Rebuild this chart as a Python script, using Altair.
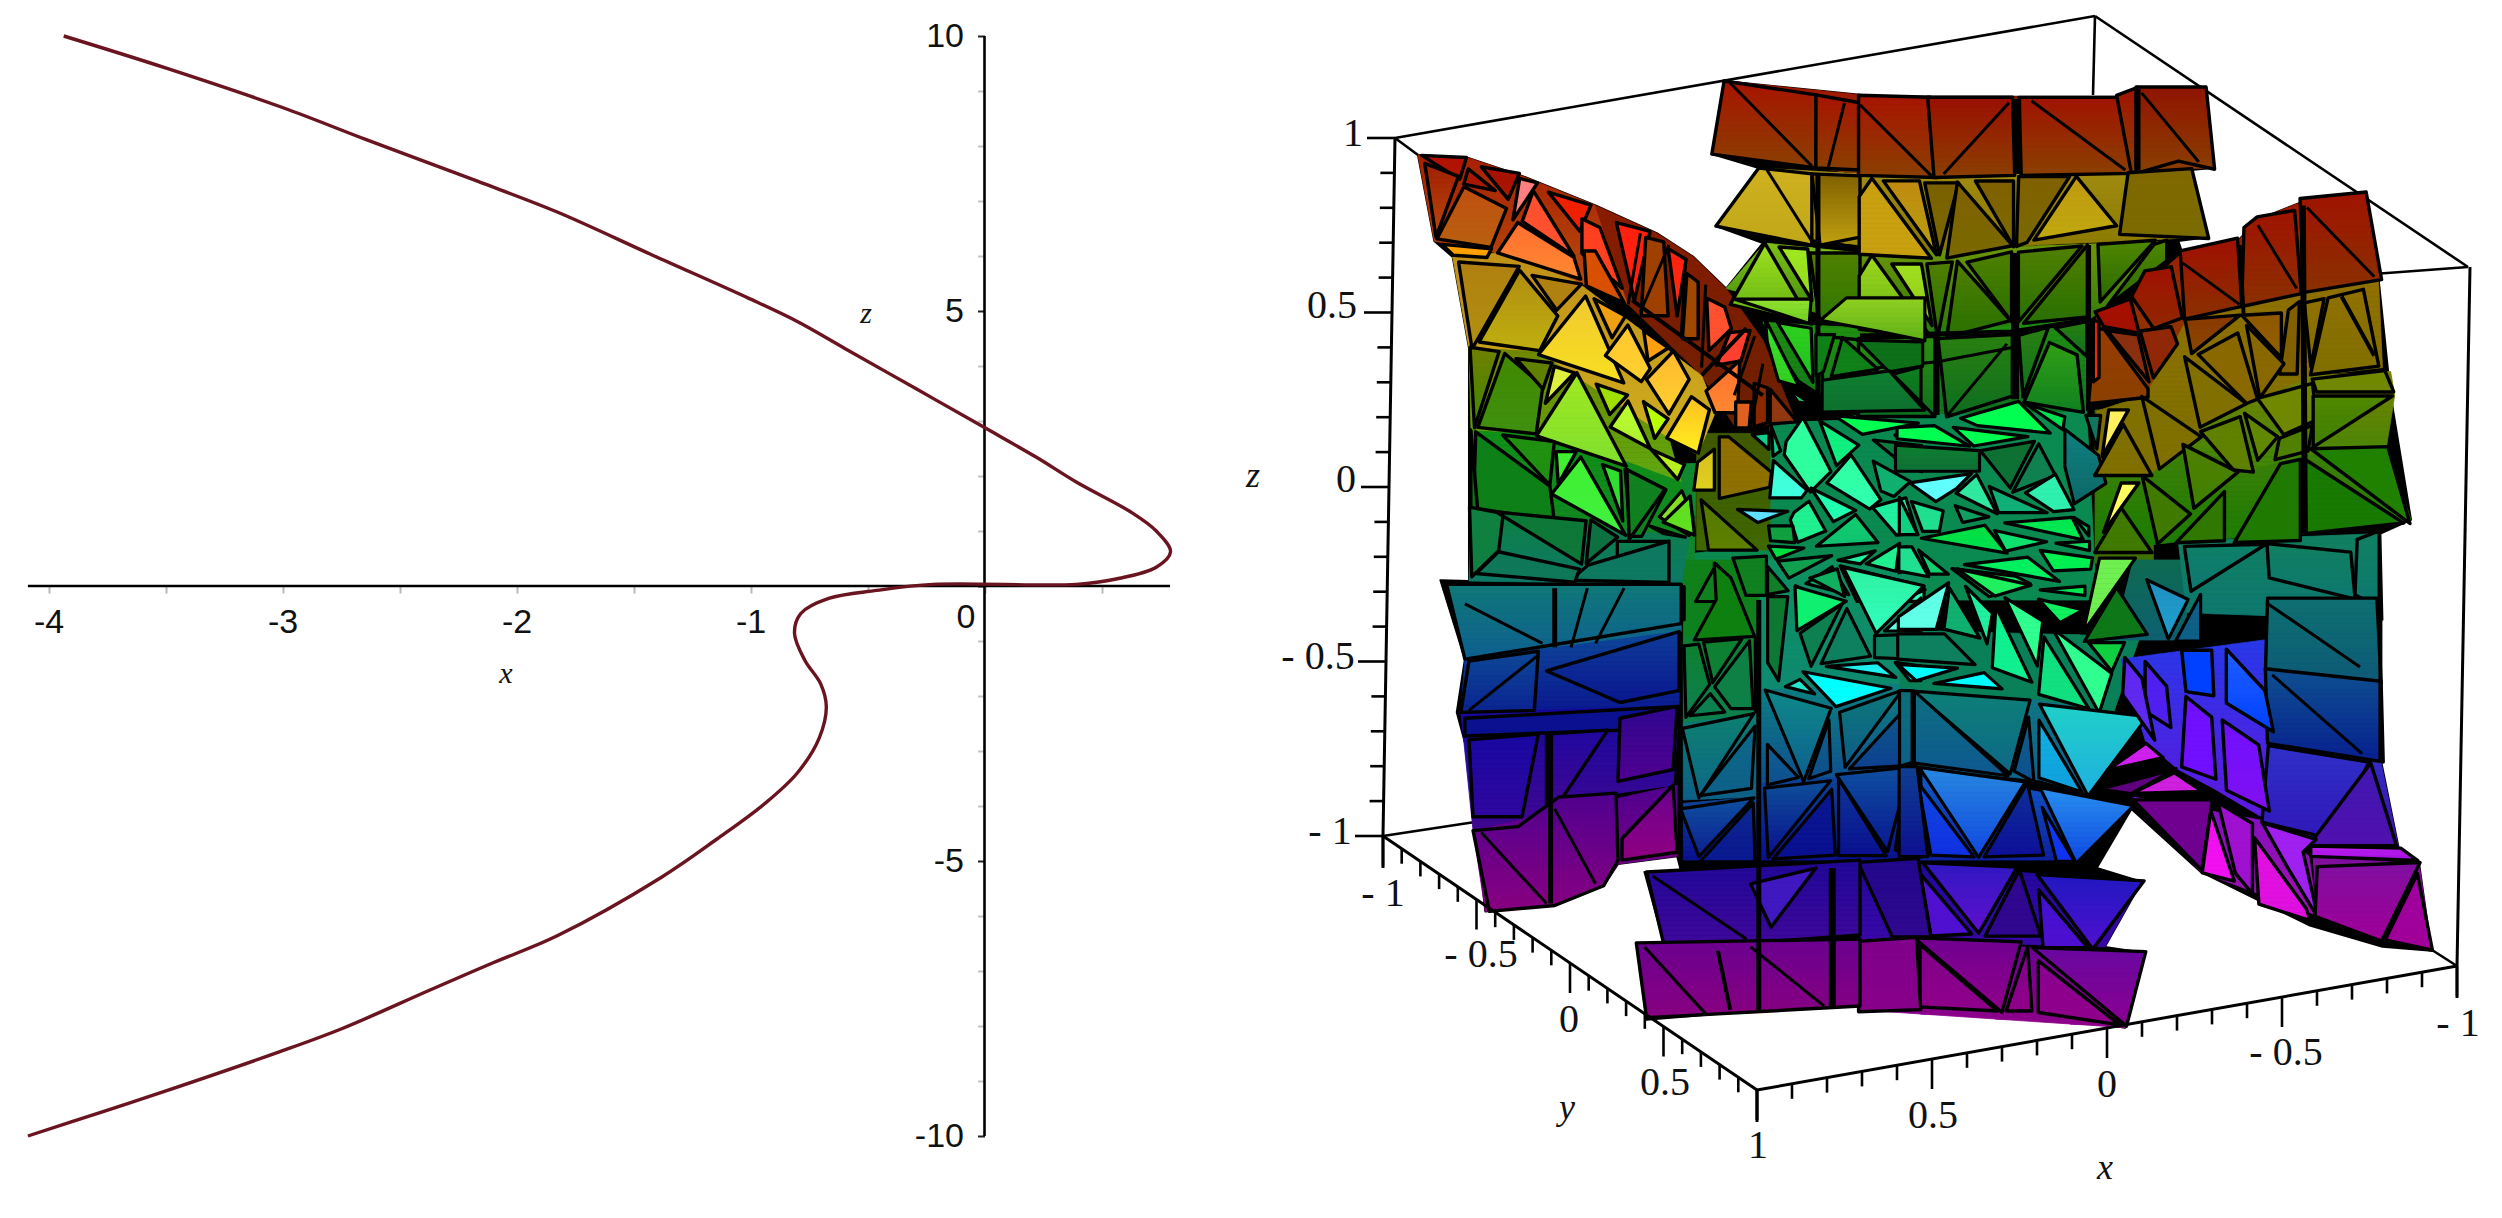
import altair as alt
import pandas as pd

# ---------- left panel: the space curve projected on the (x, z) plane ----------
CURVE_X = [-3.935,-3.5,-3.0,-2.645,-2.167,-1.826,-1.416,-1.007,-0.8,-0.597,-0.29,0,0.222,0.392,0.631,0.734,0.795,0.734,0.563,0.392,-0.22,-0.46,-0.666,-0.785,-0.812,-0.768,-0.70,-0.676,-0.706,-0.80,-0.94,-1.143,-1.382,-1.826,-2.10,-2.372,-2.747,-3.02,-3.498,-3.77,-4.088]
CURVE_Z = [10,9.42,8.7,8.12,7.36,6.80,6.01,5.23,4.81,4.32,3.58,2.88,2.34,1.89,1.33,1.0,0.62,0.34,0.127,0.03,0.03,-0.08,-0.226,-0.5,-0.86,-1.35,-1.78,-2.2,-2.76,-3.4,-3.96,-4.6,-5.3,-6.36,-6.85,-7.35,-8.05,-8.48,-9.18,-9.56,-10]
X_TICKS = [-4,-3.5,-3,-2.5,-2,-1.5,-1,-0.5,0,0.5]
Z_TICKS = list(range(-10,11))

# ---------- right panel: facets, per crop ----------
FRAMES = {"A":(1220,0,2.45,2.53),"B":(1860,0,2.45,2.53),"C":(1220,600,2.45,2.537),"D":(1860,600,2.45,2.537),
          "E":(1620,300,3,3),"F":(1900,300,3,3),"G":(1620,560,3,3),"H":(1900,560,3,3)}

SILHOUETTE = [
 ("A",[(485,392),(610,400),(740,445),(920,520),(1070,590),(1160,650),(1240,730),(1330,615),(1215,572),(1320,425),(1205,390),(1235,205),(1568,240)]),
 ("B",[(0,245),(630,245),(680,225),(845,225),(865,425),(810,430),(850,600),(780,610),(790,640),(925,610),(975,555),(1085,510),(1235,495),(1270,700),(1300,1000),(1350,1315),(1275,1350),(1280,1568)]),
 ("D",[(1275,0),(1275,400),(1320,630),(1370,670),(1400,890),(1280,880),(1100,825),(835,690),(665,530),(580,680),(690,715),(600,880),(695,895),(650,1085),(350,1040),(160,1030),(0,1035)]),
 ("C",[(1568,1030),(1220,1050),(1045,1065),(1020,870),(1090,880),(1040,690),(1130,690),(1120,650),(975,670),(940,725),(820,775),(650,790),(610,400),(580,285),(600,150),(555,0),(540,-50)]),
 ("A",[(610,1470),(610,880),(570,650),(525,610)]),
]

# row backings under the facets: (colour, colour, vertices), no outline
BASE_A = [
 ("#a01400","#8a4000",[(1235,205),(1568,240),(1568,440),(1205,390)]),
 ("#a89018","#a08c10",[(1320,425),(1568,440),(1568,620),(1215,572)]),
 ("#80c018","#3a8808",[(1335,615),(1568,640),(1568,820),(1240,730)]),
 ("#209010","#0e7420",[(1330,815),(1568,830),(1568,1060),(1420,960)]),
 ("#a82000","#b85010",[(485,392),(610,400),(740,445),(920,520),(1000,770),(870,710),(680,640),(525,610)]),
 ("#8a1c00","#6a2000",[(920,520),(1070,590),(1160,650),(1240,730),(1330,860),(1410,1065),(1265,1085),(1180,950),(1000,770)]),
 ("#c09018","#d0b020",[(570,650),(680,640),(870,710),(1180,950),(1215,1040),(1170,1150),(1100,1110),(780,890),(610,880)]),
 ("#708800","#60a810",[(610,880),(780,890),(1100,1110),(1130,1220),(1000,1170),(790,1100),(615,1090)]),
 ("#109018","#108820",[(615,1090),(790,1100),(1000,1170),(1130,1220),(1160,1360),(1000,1360),(620,1290)]),
 ("#0e8040","#0e7868",[(615,1290),(1150,1360),(1130,1480),(610,1470)]),
]
BASE_B = [
 ("#a01400","#8a4000",[(0,245),(630,245),(680,225),(845,225),(865,425),(0,445)]),
 ("#a08c10","#8a7800",[(0,445),(810,430),(850,600),(0,640)]),
 ("#709808","#2a7808",[(0,640),(750,610),(750,660),(560,810),(0,850)]),
 ("#209010","#0e7420",[(0,850),(555,810),(555,1040),(0,1050)]),
 ("#a01800","#8a4000",[(580,790),(670,750),(790,640),(925,610),(975,555),(1085,510),(1235,495),(1270,700),(1100,740),(800,810),(800,900),(700,1000),(565,1015)]),
 ("#907000","#807000",[(800,810),(1100,740),(1270,700),(1280,930),(1110,950),(980,1010),(840,1080),(700,1000)]),
 ("#788000","#408808",[(840,1080),(980,1010),(1110,950),(1300,940),(1310,1000),(1290,1130),(1100,1150),(960,1190),(800,1130)]),
 ("#408008","#187c00",[(580,1200),(710,1200),(800,1130),(960,1190),(1100,1150),(1290,1135),(1350,1315),(1095,1350),(780,1370),(580,1395)]),
 ("#807000","#807000",[(580,1040),(700,1000),(840,1080),(800,1130),(710,1200),(580,1200)]),
 ("#108060","#0e7870",[(780,1370),(1275,1350),(1270,1568),(800,1550)]),
]
BASE_C = [
 ("#107878","#0e6090",[(555,-40),(1130,-40),(1130,80),(600,150)]),
 ("#0e4898","#0a1890",[(600,150),(1125,80),(1125,270),(590,285)]),
 ("#1808a0","#400890",[(590,285),(1125,270),(1110,470),(975,490),(830,500),(730,575),(620,585)]),
 ("#500090","#880080",[(620,585),(1120,470),(1120,650),(975,670),(940,725),(820,775),(650,790)]),
]
BASE_D = [
 ("#0e7070","#0e5a78",[(1000,0),(1275,0),(1275,205),(1000,175)]),
 ("#0e5090","#082090",[(1000,175),(1275,205),(1275,405),(1000,365)]),
 ("#3030c8","#4010b0",[(1005,370),(1275,405),(1320,630),(1100,620),(990,560)]),
 ("#2838e8","#6018e0",[(640,150),(1000,100),(1000,560),(870,480),(780,430),(700,360)]),
 ("#8010c0","#a010b0",[(670,500),(990,560),(1100,650),(1120,800),(835,690)]),
 ("#8010a0","#a00098",[(1110,650),(1370,670),(1400,890),(1120,800)]),
 ("#20089a","#3a08a8",[(0,660),(690,715),(600,880),(0,860)]),
 ("#6a0090","#90008a",[(0,860),(695,895),(650,1085),(0,1040)]),
]
BASE_G = [
 ("#108018","#0e8020",[(190,0),(420,0),(420,230),(190,230)]),
 ("#0e9060","#0e8a70",[(420,0),(900,0),(900,370),(420,390)]),
 ("#0e8030","#0e8050",[(190,230),(400,220),(400,470),(190,500)]),
 ("#0e7c70","#0e6088",[(190,490),(420,460),(420,710),(190,720)]),
 ("#0e8080","#0e5090",[(420,390),(900,370),(900,640),(420,670)]),
 ("#0e4898","#0a1090",[(420,670),(900,630),(900,900),(420,900)]),
 ("#0e4898","#0a1090",[(190,730),(420,710),(420,900),(190,900)]),
]
BASE_E = [
 ("#0a8a50","#0a8a50",[(450,370),(900,350),(900,900),(230,900),(220,760),(400,740),(450,580)]),
 ("#108830","#108830",[(0,500),(230,490),(220,900),(0,900)]),
 ("#405800","#406800",[(230,400),(450,400),(450,750),(230,750)]),
]
BASE_F = [
 ("#0a8a50","#0a8a50",[(0,340),(560,330),(590,900),(0,900)]),
 ("#406800","#407000",[(585,330),(760,330),(760,790),(585,790)]),
]
BASE_H = [
 ("#0a8058","#0a8058",[(0,210),(720,230),(640,460),(0,390)]),
 ("#0e6a50","#0e6070",[(700,0),(860,0),(860,240),(640,240)]),
 ("#0e7880","#0e6090",[(0,385),(410,420),(720,470),(560,700),(420,660),(0,620)]),
 ("#1060d0","#0e20a0",[(0,620),(660,740),(500,900),(0,900)]),
]

BACK_A = [
 ("#a81400","#8a4000",[(1235,205),(1460,240),(1460,425),(1205,390)]),
 ("#a81400","#8a4000",[(1460,240),(1568,260),(1568,430),(1460,425)]),
 ("#d0b020","#c0a818",[(1320,425),(1450,440),(1450,620),(1215,572)]),
 ("#806000","#c0a010",[(1450,440),(1568,445),(1568,600),(1470,620)]),
 ("#a0e020","#60b010",[(1335,615),(1450,820),(1250,770)]),
 ("#a0e820","#90d820",[(1370,625),(1440,630),(1450,760)]),
 ("#508000","#307800",[(1445,640),(1568,640),(1568,790),(1470,820)]),
 ("#209010","#0e7020",[(1470,850),(1568,860),(1568,1050),(1480,1020)]),
]
BACK_A_LINES = [(3,[(1250,210),(1450,420)]),(3,[(1530,260),(1490,425)]),(3,[(1340,430),(1450,610)]),(5,[(1465,440),(1465,1030)]),(3,[(1510,790),(1470,820)])]

BACK_B = [
 ("#a81400","#8a4000",[(0,245),(170,250),(185,445),(0,440)]),
 ("#9a1000","#8a4000",[(170,250),(370,250),(375,440),(185,445)]),
 ("#a01400","#8a4000",[(395,250),(630,250),(665,435),(400,440)]),
 ("#a01400","#8a4000",[(630,245),(680,225),(680,430),(665,435)]),
 ("#901400","#8a4000",[(680,225),(845,225),(865,425),(780,405),(680,435)]),
 ("#c8a010","#c8a010",[(30,455),(170,650),(0,640),(0,500)]),
 ("#c08a10","#b8a010",[(60,460),(145,460),(185,640)]),
 ("#7a6000","#7a6a00",[(160,465),(240,465),(195,640)]),
 ("#806000","#7a6a00",[(240,465),(370,620),(215,650)]),
 ("#806000","#7a6a00",[(285,460),(375,460),(375,620)]),
 ("#806000","#7a6a00",[(390,450),(510,450),(410,610),(385,620)]),
 ("#c09a10","#c0a810",[(530,450),(625,570),(430,605)]),
 ("#806800","#7a6c00",[(660,440),(810,430),(850,600),(640,590)]),
 ("#a0d820","#60b010",[(30,650),(170,850),(0,830),(0,700)]),
 ("#a0e020","#90c818",[(80,670),(150,670),(175,820)]),
 ("#508000","#2a7000",[(165,670),(225,665),(190,850)]),
 ("#508000","#2a7000",[(240,665),(365,810),(215,850)]),
 ("#508000","#2a7000",[(265,665),(370,640),(370,810)]),
 ("#508000","#2a7000",[(390,640),(540,625),(390,810)]),
 ("#508000","#2a7000",[(555,625),(555,800),(405,815)]),
 ("#508800","#2a6800",[(585,620),(720,610),(590,760)]),
 ("#508800","#2a6800",[(720,620),(750,610),(750,660),(610,770)]),
 ("#2a9010","#0e7020",[(0,860),(180,855),(180,1050),(0,1050)]),
 ("#2a8010","#0e6e20",[(195,860),(370,850),(370,1000),(215,1050)]),
 ("#30a015","#108020",[(405,1015),(465,870),(530,900),(545,1040)]),
 ("#2a8010","#0e7020",[(390,850),(460,830),(400,1000)]),
 ("#2a8010","#0e7020",[(480,830),(555,815),(555,900)]),
]
BACK_B_LINES = [(3,[(0,265),(175,445)]),(3,[(365,260),(205,440)]),(8,[(385,250),(385,440)]),(3,[(420,255),(650,430)]),(6,[(680,225),(680,430)]),(3,[(690,235),(830,410)]),
 (3,[(0,860),(180,1050)]),(3,[(0,935),(190,915),(370,880)]),(8,[(380,640),(380,1010)]),(3,[(360,870),(215,1050)]),(4,[(190,850),(190,1050)]),(5,[(0,850),(370,840),(555,810)]),(5,[(560,620),(560,1040)])]

CENTRE_E = [
 ("#0e8050","#0e6860",[(0,730),(135,730),(135,840),(0,820)]),
 ("#108020","#108020",[(20,520),(130,575),(65,700),(35,700)]),
 ("#80e020","#90e030",[(185,580),(215,650),(205,700),(125,650)]),
 ("#40d020","#20b020",[(95,680),(190,710),(130,700)]),
 ("#507800","#608000",[(250,610),(400,745),(270,745)]),
 ("#907000","#8c7000",[(305,420),(330,420),(445,515),(440,555),(305,585)]),
 ("#d8c020","#e0d020",[(235,490),(280,455),(280,565),(225,565)]),
 ("#30ffa0","#30ffa0",[(550,365),(615,490),(625,510),(570,565),(500,465),(505,430)]),
 ("#10f080","#10f080",[(605,370),(710,435),(650,490)]),
 ("#30ffa0","#30ffb0",[(695,475),(775,595),(745,620),(630,550)]),
 ("#40ffd0","#40ffe0",[(465,490),(555,570),(540,590),(455,590)]),
 ("#20ffb0","#20ffb0",[(580,570),(700,630),(640,660)]),
 ("#20f090","#20f090",[(525,640),(565,610),(610,690),(535,720),(515,660)]),
 ("#10d070","#10c070",[(705,650),(765,725),(600,735)]),
 ("#20f0a0","#20f0a0",[(765,625),(855,600),(885,695),(830,700)]),
 ("#10b070","#10b070",[(765,490),(865,545),(820,585),(785,570)]),
 ("#0e8040","#0e7040",[(770,425),(900,440),(900,510),(850,490)]),
 ("#00ff50","#00ff50",[(655,350),(880,370),(730,400)]),
 ("#00ff50","#00ff50",[(830,405),(900,385),(900,420)]),
 ("#10d090","#10d090",[(400,405),(445,400),(445,445)]),
 ("#10d090","#10d090",[(455,385),(480,450),(460,465)]),
 ("#60e0ff","#60e0ff",[(360,630),(495,635),(415,665)]),
 ("#10a040","#10a040",[(450,680),(515,680),(520,725),(455,720)]),
 ("#00e040","#00e040",[(450,740),(545,745),(470,775)]),
 ("#10a050","#10a050",[(480,785),(625,770),(510,830)]),
 ("#10b060","#10b060",[(565,850),(635,805),(680,880)]),
 ("#30f0a0","#30ffc0",[(675,805),(900,860),(900,900),(720,900)]),
 ("#20f090","#20f090",[(530,860),(620,900),(530,900)]),
 ("#20f0a0","#20f0a0",[(660,780),(760,755),(720,790)]),
 ("#20f090","#20f090",[(745,790),(835,735),(825,810)]),
 ("#20e080","#20e080",[(860,745),(900,800),(840,815)]),
 ("#108020","#108020",[(345,780),(435,775),(435,880),(380,880)]),
 ("#108028","#108028",[(445,805),(500,870),(445,880)]),
 ("#108020","#108020",[(290,800),(335,850),(350,900),(235,900)]),
 ("#90e030","#70d020",[(360,0),(565,0),(560,65)]),
 ("#40e030","#30d020",[(440,70),(530,250),(475,235),(445,130)]),
 ("#30d020","#20c020",[(480,75),(570,90),(575,235)]),
 ("#20d060","#20d060",[(510,270),(570,310),(535,305)]),
 ("#108018","#0e8018",[(590,110),(640,110),(610,210),(590,220)]),
 ("#108018","#108018",[(670,120),(765,205),(640,225)]),
 ("#0e7018","#0e7018",[(725,125),(900,130),(900,195),(810,210)]),
 ("#0e8030","#0e7030",[(620,245),(800,220),(895,325),(620,330)]),
 ("#0e8020","#0e7020",[(825,225),(900,205),(900,300)]),
 ("#90d020","#60b018",[(620,60),(690,0),(900,0),(900,115),(780,90)]),
]
CENTRE_F = [
 ("#00ff50","#00ff50",[(195,355),(350,310),(435,395),(240,375)]),
 ("#00e050","#00e050",[(385,315),(490,350),(485,385)]),
 ("#00ff50","#00ff50",[(0,385),(100,380),(195,435),(0,415)]),
 ("#00ff50","#00ff50",[(170,385),(370,410),(225,435)]),
 ("#0e8030","#0e7038",[(0,440),(225,455),(225,510),(0,510)]),
 ("#0e7030","#0e7038",[(250,455),(395,430),(330,555)]),
 ("#108050","#108050",[(345,570),(415,440),(460,525)]),
 ("#108080","#0e6868",[(500,400),(590,470),(610,545),(525,600),(500,500)]),
 ("#107860","#107860",[(560,350),(600,350),(590,440)]),
 ("#60ffff","#60ffff",[(40,550),(205,525),(165,565),(110,600)]),
 ("#30e8a0","#30e8a0",[(175,580),(230,530),(285,635)]),
 ("#10b078","#10b078",[(275,565),(430,635),(300,635)]),
 ("#30f0b0","#30f0b0",[(385,580),(465,530),(515,625),(460,630)]),
 ("#20e090","#20e090",[(40,610),(125,635),(115,690),(70,690)]),
 ("#10d080","#10d080",[(0,600),(50,700),(0,700)]),
 ("#10a060","#10a060",[(170,620),(260,650),(190,665)]),
 ("#00e040","#00e050",[(80,715),(250,680),(310,755)]),
 ("#10e070","#10e070",[(290,695),(430,725),(320,750)]),
 ("#00e850","#00e850",[(330,670),(510,655),(540,715)]),
 ("#10b860","#10b860",[(525,655),(565,680),(565,705)]),
 ("#10e060","#10e060",[(475,730),(565,725),(565,750)]),
 ("#00f050","#00f050",[(430,755),(570,775),(565,805),(465,810)]),
 ("#00f060","#00f060",[(210,795),(380,775),(465,840)]),
 ("#10e860","#10e860",[(170,810),(340,830),(380,850),(270,885)]),
 ("#00e850","#00e850",[(430,870),(550,860),(550,885)]),
 ("#20e090","#20e090",[(0,745),(35,745),(80,825),(0,810)]),
 ("#10d070","#10d070",[(60,755),(140,820),(90,820)]),
 ("#30f0a0","#30f0a0",[(0,850),(70,870),(0,900)]),
]
CENTRE_G = [
 ("#0e8070","#0e6888",[(195,510),(390,470),(240,700)]),
 ("#0e6888","#0e6088",[(400,510),(250,700),(390,680)]),
 ("#0e8888","#0e6090",[(445,400),(625,450),(550,650)]),
 ("#0e6090","#0e5090",[(445,560),(530,650),(445,670)]),
 ("#0e6090","#0e5088",[(570,650),(625,490),(630,630)]),
 ("#0e7878","#0e5c88",[(665,460),(835,400),(680,610)]),
 ("#0e5c88","#0e4090",[(700,620),(875,430),(880,610)]),
 ("#0e8030","#0e8050",[(195,265),(235,260),(265,370),(200,460)]),
 ("#0e8030","#0e8038",[(255,250),(360,240),(280,360)]),
 ("#0e8040","#0e8048",[(385,255),(395,440),(335,440),(290,380)]),
 ("#0e8050","#0e8050",[(215,465),(270,405),(310,455)]),
 ("#0e7830","#0e7838",[(445,120),(500,120),(475,350),(445,300)]),
 ("#0e8010","#0e8010",[(230,230),(290,120),(285,20),(330,60),(395,220)]),
 ("#10f070","#10f070",[(530,85),(670,125),(535,205)]),
 ("#10b060","#10b060",[(575,55),(650,30),(670,105)]),
 ("#0e8050","#0e8050",[(545,220),(660,140),(575,310)]),
 ("#0e8060","#0e8060",[(610,305),(680,155),(745,285)]),
 ("#30f0a0","#30ffc0",[(680,30),(900,80),(770,210)]),
 ("#60ffe0","#60ffe8",[(800,210),(900,120),(900,210)]),
 ("#0e8060","#0e8060",[(770,230),(900,225),(900,295),(770,290)]),
 ("#00ffff","#00ffff",[(560,340),(800,385),(650,435)]),
 ("#20f0f0","#20f0f0",[(630,320),(770,310),(820,350)]),
 ("#20e8d0","#20e8d0",[(500,380),(540,360),(580,400)]),
 ("#00ffff","#00ffff",[(830,310),(900,320),(900,360),(870,360)]),
 ("#0e50a0","#0e2090",[(190,750),(390,720),(240,880)]),
 ("#0e2890","#0a1890",[(395,740),(250,900),(400,900)]),
 ("#0e5098","#0a1090",[(440,690),(620,670),(450,880)]),
 ("#0a1890","#0a1090",[(470,890),(630,700),(640,880)]),
 ("#0e50a0","#0a1890",[(660,650),(860,630),(800,860)]),
 ("#0e3898","#0a1090",[(660,670),(790,880),(660,880)]),
 ("#0a2090","#0a1090",[(830,860),(860,640),(900,640),(900,880)]),
 ("#0e6880","#0e6088",[(30,85),(185,85),(185,175),(40,200)]),
]
CENTRE_H = [
 ("#60ffe8","#60ffe8",[(0,170),(140,75),(105,205),(0,205)]),
 ("#10b070","#10b070",[(150,90),(235,230),(135,205)]),
 ("#20f0a0","#20f0a0",[(200,85),(275,160),(260,245)]),
 ("#10f090","#10f090",[(290,150),(390,360),(280,320)]),
 ("#30ff90","#30ff90",[(320,120),(425,185),(410,310)]),
 ("#10e080","#10e080",[(435,240),(560,440),(420,400)]),
 ("#30ff90","#30ff90",[(465,215),(630,340),(595,450)]),
 ("#0e8060","#0e8060",[(0,225),(130,225),(215,310),(0,295)]),
 ("#00ffff","#00ffff",[(0,315),(165,325),(50,360)]),
 ("#00ffff","#00ffff",[(110,370),(300,385),(250,340)]),
 ("#10f060","#10f060",[(420,120),(545,150),(480,185)]),
 ("#20f060","#20f060",[(180,30),(385,75),(285,105)]),
 ("#70f050","#70f050",[(600,0),(700,0),(555,205)]),
 ("#0e7818","#0e7818",[(560,240),(735,220),(650,90)]),
 ("#10d040","#10d040",[(570,250),(670,250),(635,330)]),
 ("#2090c0","#20a0d0",[(745,65),(860,120),(805,230)]),
 ("#0e6088","#0e6088",[(830,240),(900,110),(900,240)]),
 ("#0e8078","#0e6888",[(55,400),(380,425),(325,630)]),
 ("#0e7080","#0e5890",[(50,405),(310,640),(50,605)]),
 ("#0e7078","#0e6088",[(0,400),(35,400),(35,600),(0,610)]),
 ("#20d0c8","#20b0e0",[(430,440),(730,475),(565,695)]),
 ("#10b0e0","#10a0e0",[(420,490),(540,690),(420,650)]),
 ("#0e6088","#0e5090",[(345,630),(385,480),(400,660)]),
 ("#2888e0","#1048e0",[(70,630),(365,670),(235,880)]),
 ("#1048e0","#1030e0",[(60,680),(215,885),(95,880)]),
 ("#0e3098","#0e1098",[(260,885),(380,680),(425,880)]),
 ("#0e4090","#0e1090",[(0,630),(50,630),(80,880),(0,880)]),
 ("#2890f0","#1048e0",[(430,690),(690,740),(530,900)]),
 ("#1040f0","#1030f0",[(430,750),(520,900),(470,900)]),
]

WING_A = [
 ("#b01000","#b01800",[(500,395),(600,400),(585,450)]),
 ("#a02000","#b84810",[(505,420),(580,450),(530,590)]),
 ("#a81800","#a81800",[(610,430),(670,480),(600,465)]),
 ("#a81000","#a81800",[(645,425),(730,440),(705,500)]),
 ("#c05010","#b86010",[(600,480),(695,530),(660,620),(540,600)]),
 ("#ffa000","#ffa000",[(550,620),(660,630),(650,650),(575,645)]),
 ("#ff8080","#ff8080",[(735,455),(775,465),(720,550)]),
 ("#ff5030","#ff5030",[(770,490),(860,640),(745,560)]),
 ("#ff7030","#ff8830",[(735,570),(860,650),(875,700),(690,640)]),
 ("#f02000","#f02000",[(810,490),(905,520),(880,580)]),
 ("#ff4020","#ff4020",[(890,560),(930,580),(980,720),(890,640)]),
 ("#ff2010","#ff2010",[(975,570),(1050,590),(1015,750)]),
 ("#a04000","#a04000",[(1045,610),(1085,620),(1095,790),(1035,790)]),
 ("#ff2010","#ff3010",[(1100,635),(1140,660),(1120,790)]),
 ("#d85000","#d85000",[(895,640),(920,640),(985,760),(900,720)]),
 ("#a04800","#a04800",[(1145,700),(1170,720),(1170,850),(1135,850)]),
 ("#ff5030","#ff5030",[(1195,760),(1235,780),(1250,830),(1200,880)]),
 ("#ff4030","#ff4030",[(1250,845),(1295,840),(1275,910),(1220,920)]),
 ("#ff7030","#ff8830",[(1195,990),(1270,920),(1265,1040),(1215,1040)]),
 ("#8a2800","#8a2800",[(1310,975),(1340,985),(1340,1065),(1310,1075)]),
 ("#903810","#903810",[(1350,990),(1410,1065),(1350,1070)]),
 ("#e06020","#e06020",[(1265,1020),(1300,1020),(1295,1080),(1265,1080)]),
 ("#b08010","#b09010",[(590,670),(725,680),(620,870)]),
 ("#b08c10","#c0b010",[(735,695),(820,800),(780,880),(645,860)]),
 ("#b08010","#b08010",[(770,700),(880,720),(825,780)]),
 ("#f0c830","#f8e020",[(895,760),(980,960),(790,895)]),
 ("#f0a010","#f0a010",[(920,760),(990,800),(960,850)]),
 ("#ffc830","#ffd030",[(1000,830),(1050,930),(1030,960),(950,900)]),
 ("#ffa010","#ffa010",[(1040,840),(1095,880),(1050,910)]),
 ("#ffb830","#ffd030",[(1110,895),(1145,960),(1100,1040),(1050,960)]),
 ("#ffc020","#ffee20",[(1155,1010),(1195,1040),(1170,1140),(1100,1105)]),
 ("#708000","#408800",[(615,885),(680,895),(625,1070)]),
 ("#408800","#409010",[(700,905),(785,980),(770,1090),(640,1075)]),
 ("#608000","#608000",[(730,910),(810,920),(790,980)]),
 ("#e0f040","#e0f040",[(820,930),(865,945),(800,1015)]),
 ("#a0e820","#80e030",[(875,955),(985,1170),(785,1100)]),
 ("#a0e000","#a0e000",[(925,975),(995,1000),(955,1045)]),
 ("#c0ff30","#a8f030",[(1000,1020),(1050,1130),(960,1080)]),
 ("#b8ff00","#b8ff00",[(1040,1020),(1095,1060),(1065,1105)]),
 ("#b8f020","#b8f020",[(1060,1140),(1135,1175),(1120,1210)]),
 ("#0e8018","#0e8018",[(635,1105),(800,1230),(810,1310),(630,1280)]),
 ("#209010","#209010",[(700,1105),(815,1120),(805,1220)]),
 ("#40f030","#40f030",[(825,1145),(870,1145),(830,1220)]),
 ("#40f030","#40f040",[(885,1165),(985,1345),(820,1250)]),
 ("#30e030","#30e030",[(940,1180),(980,1195),(985,1310)]),
 ("#108020","#108020",[(1000,1195),(1085,1240),(1005,1355)]),
 ("#60e020","#60e020",[(1150,1260),(1160,1350),(1090,1320)]),
 ("#0e7018","#0e7018",[(615,1100),(630,1280),(615,1285)]),
 ("#108040","#108040",[(615,1290),(690,1305),(680,1390),(620,1450)]),
 ("#0e7838","#0e7838",[(690,1300),(890,1320),(880,1420)]),
 ("#0e7040","#0e7040",[(910,1320),(970,1360),(900,1420)]),
 ("#0e7860","#0e7860",[(910,1430),(1090,1375),(1090,1470),(870,1465)]),
 ("#0e7858","#0e7858",[(640,1450),(690,1400),(870,1440),(860,1470)]),
]
WING_A_LINES = [(3,[(1000,770),(1030,590)]),(3,[(1030,790),(1100,620)]),(3,[(1130,850),(1140,670)]),(3,[(1180,930),(1190,720)]),(4,[(1010,760),(1330,1000)]),(4,[(1180,950),(1290,830)]),(3,[(1260,1000),(1310,850)]),(3,[(1300,1080),(1330,920)])]
WING_C = [
 ("#107878","#0e6090",[(555,-40),(1130,-40),(1130,60),(780,120),(600,150)]),
 ("#0e4898","#0a2490",[(610,155),(780,130),(770,280),(590,285)]),
 ("#0e3c98","#0a1890",[(800,180),(1125,80),(1125,230),(980,260)]),
 ("#0a1090","#0a1090",[(600,300),(1125,270),(1120,325),(600,345)]),
 ("#1808a0","#3008a0",[(610,355),(780,340),(740,550),(620,550)]),
 ("#2008a0","#400890",[(800,340),(950,330),(840,500),(800,520)]),
 ("#300890","#500090",[(980,300),(1120,270),(1110,430),(975,460)]),
 ("#500090","#880080",[(620,585),(730,575),(830,500),(970,490),(975,660),(940,725),(820,775),(660,790)]),
 ("#6a0090","#900080",[(985,605),(1110,470),(1120,640),(985,660)]),
]
WING_C_LINES = [(3,[(600,10),(790,110)]),(5,[(820,-30),(820,120)]),(3,[(900,-30),(860,120)]),(3,[(990,-30),(920,110)]),(3,[(610,280),(780,140)]),(3,[(640,590),(800,770)]),(3,[(820,530),(920,720)]),(5,[(810,340),(810,770)])]

WING_B = [
 ("#a01400","#8a3000",[(1085,510),(1235,495),(1270,700),(1095,730)]),
 ("#a01400","#8a3000",[(975,555),(1060,540),(1075,735),(940,765),(945,580)]),
 ("#a01000","#8a3000",[(790,640),(920,610),(930,770),(800,800)]),
 ("#a01000","#902800",[(670,750),(700,690),(760,680),(785,800),(720,825)]),
 ("#a81000","#a01000",[(580,790),(660,760),(680,840),(600,825)]),
 ("#983c00","#8a4000",[(580,840),(600,840),(700,980),(700,1000),(565,1015)]),
 ("#8a3010","#8a3010",[(610,840),(680,850),(705,960)]),
 ("#902808","#902808",[(690,840),(760,830),(775,870),(720,950)]),
 ("#8a3800","#8a4800",[(800,810),(925,800),(815,890)]),
 ("#905800","#906000",[(940,800),(1030,795),(1030,900)]),
 ("#806000","#806000",[(1050,790),(1075,770),(1070,940),(1030,940)]),
 ("#907000","#807000",[(1150,760),(1230,740),(1265,920),(1110,940)]),
 ("#907000","#807000",[(1090,770),(1135,760),(1105,920)]),
 ("#8a6800","#8a6800",[(835,900),(925,850),(970,1005),(945,1015)]),
 ("#807000","#807000",[(800,910),(940,1020),(835,1075)]),
 ("#8a6800","#8a6800",[(950,830),(1035,920),(980,1000)]),
 ("#708800","#708800",[(980,1010),(1105,975),(1115,1060),(1040,1095)]),
 ("#708800","#708800",[(1115,960),(1280,940),(1300,990),(1125,990)]),
 ("#807000","#807000",[(695,1010),(830,1105),(735,1180)]),
 ("#608000","#608000",[(840,1095),(930,1060),(960,1190),(915,1185)]),
 ("#608800","#608800",[(945,1050),(1020,1105),(975,1160)]),
 ("#508800","#408000",[(1115,1005),(1295,1005),(1115,1125)]),
 ("#508000","#508000",[(1030,1110),(1105,1080),(1095,1140),(1020,1160)]),
 ("#208000","#208000",[(1115,1140),(1290,1135),(1340,1315)]),
 ("#187a00","#187a00",[(1095,1170),(1320,1320),(1095,1345)]),
 ("#207a00","#207a00",[(1030,1180),(1075,1170),(1075,1360),(925,1365)]),
 ("#508000","#408000",[(795,1130),(920,1195),(820,1280)]),
 ("#307800","#307800",[(780,1370),(890,1250),(890,1365)]),
 ("#407a00","#407a00",[(695,1210),(805,1300),(730,1370)]),
 ("#407a00","#407a00",[(640,1290),(710,1395),(580,1395)]),
 ("#807000","#807000",[(645,1080),(710,1200),(580,1200)]),
 ("#fff060","#fff060",[(610,1040),(655,1040),(595,1150)]),
 ("#ffff60","#ffff60",[(640,1225),(680,1225),(600,1340)]),
 ("#0e8068","#0e7870",[(800,1385),(985,1380),(815,1490)]),
 ("#108060","#0e7870",[(1005,1380),(1195,1400),(1205,1510),(1010,1460)]),
 ("#108060","#0e7870",[(1220,1370),(1270,1350),(1270,1530),(1215,1500)]),
 ("#e02000","#ff3000",[(572,815),(585,820),(585,950),(572,960)]),
]
WING_B_LINES = [(3,[(1095,525),(1260,700)]),(3,[(975,570),(1070,730)]),(3,[(790,665),(930,770)]),(6,[(1085,520),(1090,1350)]),(4,[(1180,750),(1260,900)]),(4,[(930,620),(940,800)])]

WING_D = [
 ("#0e7070","#0e5a78",[(1005,0),(1260,0),(1270,205),(1000,175)]),
 ("#0e5090","#082090",[(1000,180),(1270,210),(1275,405),(1005,360)]),
 ("#3030c8","#3018b8",[(1005,375),(1240,415),(1150,600),(990,560)]),
 ("#4018b0","#5010b0",[(1250,420),(1310,620),(1105,620)]),
 ("#0040ff","#0040ff",[(790,130),(860,130),(865,240),(800,230)]),
 ("#2060ff","#0040ff",[(900,130),(990,230),(1010,330),(900,260)]),
 ("#5020f0","#5020f0",[(700,160),(750,220),(760,320),(700,280)]),
 ("#6028f0","#6028f0",[(650,150),(690,200),(720,350),(645,240)]),
 ("#7010ff","#7010ff",[(800,250),(860,300),(870,450),(790,420)]),
 ("#7010ff","#8010f0",[(890,310),(975,370),(1000,530),(900,480)]),
 ("#700090","#700090",[(675,510),(860,510),(835,680)]),
 ("#f010f0","#f010f0",[(840,690),(860,540),(915,710)]),
 ("#a010d0","#a010d0",[(880,520),(960,570),(960,740),(920,690)]),
 ("#e010e0","#e010e0",[(970,610),(1090,780),(1100,810),(980,770)]),
 ("#a020f0","#a020f0",[(990,570),(1115,610),(1085,640),(1120,800),(1050,680)]),
 ("#8010a0","#a00098",[(1125,680),(1365,670),(1275,860),(1120,800)]),
 ("#a000a0","#a00098",[(1290,860),(1365,700),(1400,885)]),
 ("#c020f0","#a010e0",[(1110,625),(1320,630),(1360,660),(1110,650)]),
 ("#d020e0","#d020e0",[(670,490),(835,485),(770,440)]),
 ("#d020f0","#d020f0",[(610,430),(740,400),(700,365)]),
 ("#600080","#600080",[(590,480),(770,430),(665,490)]),
 ("#3018c0","#6010d0",[(160,670),(380,680),(290,840)]),
 ("#5010d0","#5010d0",[(150,700),(270,845),(175,850)]),
 ("#300890","#300890",[(310,850),(390,690),(440,850)]),
 ("#20088a","#300890",[(0,670),(140,660),(170,850),(80,850)]),
 ("#2018c0","#5010d0",[(440,700),(690,715),(570,880)]),
 ("#4010d0","#5010d0",[(440,740),(555,880),(450,880)]),
 ("#700090","#90008a",[(140,860),(390,870),(345,1040)]),
 ("#80008a","#90008a",[(150,880),(330,1040),(150,1030)]),
 ("#80008a","#90008a",[(410,885),(360,1040),(420,1040)]),
 ("#80008a","#88008a",[(0,870),(135,860),(145,1035),(0,1040)]),
 ("#6808a0","#8a0090",[(430,885),(695,895),(650,1075)]),
 ("#8a0090","#90008a",[(440,920),(630,1075),(440,1045)]),
]
WING_D_LINES = [(3,[(1000,10),(1225,170)]),(3,[(1010,190),(1230,390)]),(4,[(1275,0),(1275,405)])]

FRONT_C = [
 ("#200898","#40089a",[(1045,690),(1568,660),(1568,850),(1090,885)]),
 ("#4018c0","#4018c0",[(1300,720),(1460,680),(1350,830)]),
 ("#6a0090","#880080",[(1020,870),(1568,860),(1568,1030),(1220,1050),(1045,1060)]),
]
FRONT_C_LINES = [(3,[(1060,700),(1290,860)]),(3,[(1040,880),(1190,1050)]),(4,[(1220,890),(1250,1040)]),(3,[(1300,880),(1480,1030)]),(7,[(1500,680),(1500,1030)]),(5,[(1320,0),(1320,1040)])]

# axis values of the 3-D frame
Z3_TICKS = [round(-1+0.1*i,1) for i in range(21)]
BOX_BACK = [[(1395,138),(2095,16)],[(2095,16),(2468,267)],[(2095,16),(2093,95)],[(1395,138),(1418,155)],[(1383,836),(1475,822)],[(2252,283),(2468,267)],[(2457,966),(2432,950)]]
BOX_FRONT = [[(1395,138),(1383,836)],[(1383,836),(1757,1090)],[(1757,1090),(2457,966)],[(2470,267),(2457,966)],[(1383,836),(1383,868)],[(1757,1090),(1757,1122)],[(2457,966),(2457,998)]]

TEXT_3D = [("1",1353,134),("0.5",1332,306),("0",1346,480),("- 0.5",1318,657),("- 1",1330,832),
           ("- 1",1383,894),("- 0.5",1481,955),("0",1569,1020),("0.5",1665,1083),("1",1758,1146),
           ("0.5",1933,1116),("0",2107,1085),("- 0.5",2286,1053),("- 1",2458,1024)]
ITALIC_3D = [("z",1253,476),("y",1567,1108),("x",2105,1168)]

# ---------- helpers ----------
def page(frame, pts):
    ox, oy, sx, sy = FRAMES[frame]
    return [(ox + p[0]/sx, oy + p[1]/sy) for p in pts]

def clip(poly, y0, keep_above):
    out = []
    n = len(poly)
    for i in range(n):
        a, b = poly[i], poly[(i+1) % n]
        ia = (a[1] <= y0) if keep_above else (a[1] >= y0)
        ib = (b[1] <= y0) if keep_above else (b[1] >= y0)
        if ia:
            out.append(a)
        if ia != ib:
            t = (y0-a[1])/(b[1]-a[1])
            out.append((a[0]+t*(b[0]-a[0]), y0))
    return out

def mix(c1, c2, t):
    a = [int(c1[i:i+2],16) for i in (1,3,5)]
    b = [int(c2[i:i+2],16) for i in (1,3,5)]
    return "#%02x%02x%02x" % tuple(round(u+(v-u)*t) for u,v in zip(a,b))

features = []
def add(kind, coords, fill, stroke, width):
    geom = {"type":"Polygon","coordinates":[[list(p) for p in coords]+[list(coords[0])]]} if kind=="poly" else {"type":"LineString","coordinates":[list(p) for p in coords]}
    features.append({"type":"Feature","geometry":geom,"properties":{"f":fill,"s":stroke,"w":width}})

def patches(frame, items, outline=3.4, grow=1.0):
    for c1, c2, pts in items:
        poly = page(frame, pts)
        if grow != 1.0:
            cx = sum(p[0] for p in poly)/len(poly)
            cy = sum(p[1] for p in poly)/len(poly)
            poly = [(cx+(p[0]-cx)*grow, cy+(p[1]-cy)*grow) for p in poly]
        ys = [p[1] for p in poly]
        top, bot = min(ys), max(ys)
        y = top
        while y < bot:
            y2 = min(y+5, bot)
            s = clip(clip(poly, y, False), y2, True)
            if len(s) >= 3:
                c = mix(c1, c2, ((y+y2)/2-top)/max(bot-top,1))
                add("poly", s, c, c, 0.8)
            y = y2
        if outline:
            add("poly", poly, "none", "#000000", outline)

def lines(frame, items):
    for w, pts in items:
        add("line", page(frame, pts), "none", "#000000", w)

sil = []
for fr, pts in SILHOUETTE:
    sil += page(fr, pts)
add("poly", sil, "#000000", "#000000", 2)

for fr, base in (("E",BASE_E),("F",BASE_F),("G",BASE_G),("H",BASE_H),("A",BASE_A),("B",BASE_B),("C",BASE_C),("D",BASE_D)):
    patches(fr, base, 0)

patches("A", BACK_A); lines("A", BACK_A_LINES)
patches("B", BACK_B, grow=1.04); lines("B", BACK_B_LINES)
patches("E", CENTRE_E, 3.2, 1.12); patches("F", CENTRE_F, 3.2, 1.12); patches("G", CENTRE_G, 3.2, 1.1); patches("H", CENTRE_H, 3.2, 1.08)
patches("A", WING_A, grow=1.1); lines("A", WING_A_LINES); patches("C", WING_C); lines("C", WING_C_LINES)
patches("B", WING_B, grow=1.08); lines("B", WING_B_LINES)
patches("D", WING_D, grow=1.05); lines("D", WING_D_LINES)
patches("C", FRONT_C); lines("C", FRONT_C_LINES)

# ---------- left panel ----------
LW, PH = 1182, 1202
x_scale = alt.Scale(domain=[(8-984.5)/234, (1190-984.5)/234], nice=False, zero=False)
z_scale = alt.Scale(domain=[(586-1210)/55, (586-8)/55], nice=False, zero=False)
curve_df = pd.DataFrame({"x":CURVE_X,"z":CURVE_Z,"o":range(len(CURVE_X))})

X_AXIS = alt.Axis(orient="bottom",offset=-624,values=X_TICKS,domain=False,grid=False,title=None,
        tickColor="#b8b8b8",tickSize=7,tickWidth=2,labelFont="Liberation Sans",labelFontSize=34,labelColor="#111111",labelPadding=12,labelFlush=False,labelOverlap=False,
        labelExpr="datum.value % 1 == 0 && datum.value != 0 ? '' + datum.value : ''")
Z_AXIS = alt.Axis(orient="left",offset=-976.5,values=Z_TICKS,domain=False,grid=False,title=None,
        tickColor={"condition":{"test":"datum.value % 5 == 0","value":"#222222"},"value":"#c4c4c4"},tickSize=7,tickWidth=2,
        labelFont="Liberation Sans",labelFontSize=34,labelColor="#111111",labelPadding=14,labelOverlap=False,labelFlush=False,
        labelExpr="datum.value % 5 == 0 && datum.value != 0 ? '' + datum.value : ''")
ex = alt.X("x:Q",scale=x_scale,axis=X_AXIS)
ez = alt.Y("z:Q",scale=z_scale,axis=Z_AXIS)

axes = alt.Chart(pd.DataFrame({"x":[-4.088],"x2":[0.793],"z":[0]})).mark_rule(color="black",strokeWidth=2.6).encode(x=ex,x2="x2:Q",y=ez)
zline = alt.Chart(pd.DataFrame({"x":[0],"z":[-10],"z2":[10]})).mark_rule(color="black",strokeWidth=2.6).encode(x=ex,y=ez,y2="z2:Q")
curve = alt.Chart(curve_df).mark_line(color="#6a1420",strokeWidth=3.4,interpolate="catmull-rom").encode(x=ex,y=ez,order="o:Q")
ltext = alt.Chart(pd.DataFrame({"t":["0"],"x":[-0.079],"z":[-0.58]})).mark_text(font="Liberation Sans",fontSize=34,color="#111111").encode(x=ex,y=ez,text="t:N")
ltitle = alt.Chart(pd.DataFrame({"t":["x","z"],"x":[-2.045,-0.506],"z":[-1.6,4.95]})).mark_text(font="Liberation Serif",fontStyle="italic",fontSize=30,color="#111111").encode(x=ex,y=ez,text="t:N")
left = alt.layer(axes,zline,curve,ltext,ltitle).properties(width=LW,height=PH)

# ---------- right panel ----------
RW = 1304
px_scale = alt.Scale(domain=[1190,2494],nice=False,zero=False)
py_scale = alt.Scale(domain=[1210,8],nice=False,zero=False)

def seg_rows(segs, width):
    rows = []
    for i, s in enumerate(segs):
        for j, p in enumerate(s):
            rows.append({"px":p[0],"py":p[1],"g":i,"o":j,"w":width})
    return rows

def line_layer(rows):
    return alt.Chart(pd.DataFrame(rows)).mark_line(color="black").encode(
        x=alt.X("px:Q",scale=px_scale,axis=None),y=alt.Y("py:Q",scale=py_scale,axis=None),
        detail="g:N",order="o:Q",strokeWidth=alt.StrokeWidth("w:Q",scale=None))

tick_segs = []
for v in Z3_TICKS:
    major = abs(v*2-round(v*2)) < 1e-9
    t = (v+1)/2
    zx, zy = 1383+t*(1395-1383), 836+t*(138-836)
    tick_segs.append([(zx,zy),(zx-(28 if major else 14),zy)])
    yx, yy = 1383+t*(1757-1383), 836+t*(1090-836)
    tick_segs.append([(yx,yy),(yx,yy+(30 if major else 15))])
    xx, xy = 2457+t*(1757-2457), 966+t*(1090-966)
    tick_segs.append([(xx,xy),(xx,xy+(30 if major else 15))])

box_back = line_layer(seg_rows(BOX_BACK,2.6))
box_front = line_layer(seg_rows(BOX_FRONT,3))
ticks = line_layer(seg_rows(tick_segs,2.6))

shape = alt.Chart(alt.Data(values={"type":"FeatureCollection","features":features},format=alt.DataFormat(type="json",property="features"))).mark_geoshape(strokeJoin="round").encode(
    fill=alt.Fill("properties.f:N",scale=None),
    stroke=alt.Stroke("properties.s:N",scale=None),
    strokeWidth=alt.StrokeWidth("properties.w:Q",scale=None),
).project(type="identity",scale=1,translate=[-1190,-8])

def text_layer(items,**kw):
    df = pd.DataFrame(items,columns=["t","px","py"])
    return alt.Chart(df).mark_text(color="#111111",**kw).encode(
        x=alt.X("px:Q",scale=px_scale,axis=None),y=alt.Y("py:Q",scale=py_scale,axis=None),text="t:N")

t3 = text_layer(TEXT_3D,font="Liberation Serif",fontSize=40)
i3 = text_layer(ITALIC_3D,font="Liberation Serif",fontStyle="italic",fontSize=36)

right = alt.layer(box_back,shape,box_front,ticks,t3,i3).properties(width=RW,height=PH)

chart = alt.hconcat(left,right,spacing=0).properties(padding=0).configure_view(stroke=None)
chart.save("out.html", embed_options={"renderer":"svg","actions":False})
